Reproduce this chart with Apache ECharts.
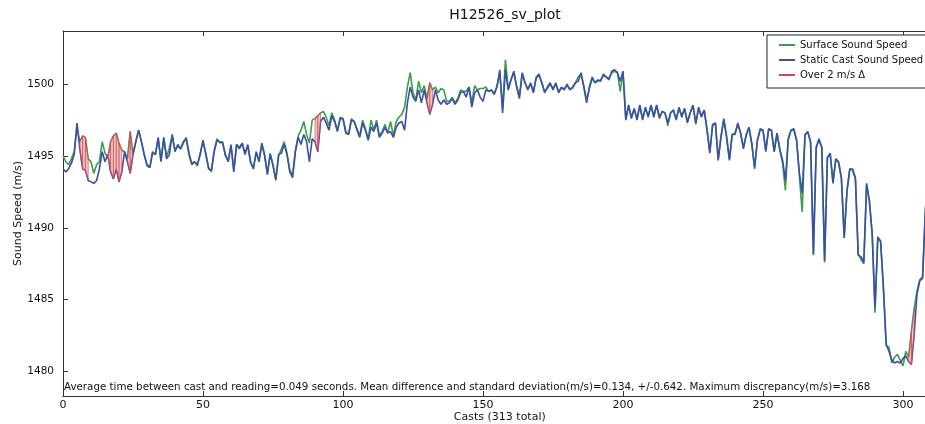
<!DOCTYPE html>
<html><head><meta charset="utf-8">
<script src="https://cdn.jsdelivr.net/npm/echarts@6/dist/echarts.min.js"></script>
<style>html,body{margin:0;padding:0;background:#fff}#c{width:925px;height:424px}</style>
</head><body><div id="c"></div>
<script>
const chartTitle = 'H12526_sv_plot';
const xAxisTitle = 'Casts (313 total)';
const yAxisTitle = 'Sound Speed (m/s)';
const seriesNames = ['Surface Sound Speed', 'Static Cast Sound Speed', 'Over 2 m/s \u0394'];
const note = 'Average time between cast and reading=0.049 seconds. Mean difference and standard deviation(m/s)=0.134, +/-0.642. Maximum discrepancy(m/s)=3.168';
const xTickValues = [0, 50, 100, 150, 200, 250, 300];
const yTickValues = [1480, 1485, 1490, 1495, 1500];
const deltaLimit = 2;

const surface = [
1495.0,1494.6,1494.4,1494.8,1495.3,1497.0,1496.0,1496.4,1496.3,1494.8,
1494.6,1493.8,1494.4,1494.6,1496.0,1495.2,1494.9,1496.0,1496.4,1496.6,
1495.9,1495.4,1495.3,1494.8,1496.7,1495.1,1496.0,1496.8,1496.0,1495.1,
1494.3,1494.2,1495.2,1495.1,1496.2,1494.7,1496.2,1494.9,1495.6,1496.4,
1495.4,1495.7,1495.5,1495.9,1496.3,1495.2,1494.5,1494.6,1494.3,1495.2,
1496.0,1495.2,1494.2,1493.9,1495.4,1496.2,1495.9,1496.0,1495.0,1494.7,
1495.7,1494.0,1495.8,1495.6,1495.9,1495.2,1495.7,1494.5,1494.2,1495.2,
1494.7,1495.8,1495.0,1493.8,1495.2,1494.3,1493.4,1495.0,1495.5,1496.0,
1495.2,1494.0,1493.7,1495.4,1496.4,1496.8,1497.4,1496.5,1495.9,1497.5,
1497.6,1497.8,1498.0,1498.1,1497.7,1497.1,1498.0,1497.5,1496.8,1497.7,
1497.6,1496.7,1496.5,1497.6,1497.4,1496.9,1496.4,1497.5,1496.9,1496.2,
1497.5,1496.8,1497.5,1496.4,1496.7,1497.2,1496.6,1497.4,1496.4,1497.4,
1497.7,1497.9,1498.4,1499.8,1500.8,1499.4,1498.9,1500.2,1499.4,1499.9,
1499.0,1500.1,1499.6,1499.8,1499.4,1499.7,1499.6,1498.8,1498.8,1499.1,
1498.7,1499.0,1499.6,1499.5,1499.5,1499.8,1498.7,1499.9,1499.6,1499.7,
1499.7,1499.8,1499.5,1499.6,1499.3,1499.9,1500.8,1498.3,1501.7,1499.7,
1500.3,1500.8,1499.9,1499.2,1500.7,1500.1,1499.7,1500.0,1499.5,1500.4,
1500.6,1500.1,1499.5,1499.7,1500.0,1499.7,1500.0,1499.5,1499.7,1499.7,
1499.9,1499.7,1499.7,1500.1,1500.5,1500.7,1499.9,1498.9,1499.7,1500.4,
1500.1,1500.2,1500.3,1500.6,1500.5,1500.4,1500.8,1500.9,1500.8,1499.5,
1500.9,1497.6,1498.5,1497.7,1498.3,1497.6,1498.5,1497.6,1498.3,1497.8,
1498.5,1497.8,1498.5,1497.6,1498.1,1498.0,1497.1,1498.0,1498.2,1497.6,
1498.3,1497.8,1498.3,1497.4,1498.0,1498.5,1497.2,1498.3,1497.8,1498.2,
1496.9,1495.3,1497.1,1497.3,1494.8,1496.4,1497.5,1496.4,1494.8,1496.5,
1496.6,1497.2,1496.6,1495.6,1496.4,1497.0,1495.8,1494.1,1496.1,1496.8,
1496.8,1495.4,1496.8,1496.8,1495.3,1496.6,1495.4,1494.5,1492.6,1496.1,
1496.8,1496.8,1496.1,1493.6,1491.1,1496.4,1496.7,1495.9,1488.1,1495.6,
1496.1,1495.6,1487.6,1494.9,1495.1,1493.2,1494.8,1494.5,1493.4,1489.4,
1492.5,1494.1,1494.0,1493.4,1488.2,1487.8,1487.5,1493.0,1491.8,1489.5,
1484.1,1489.4,1489.0,1485.9,1481.8,1481.7,1480.6,1481.0,1481.2,1480.8,
1480.4,1481.4,1481.0,1482.8,1484.4,1485.6,1486.4,1486.6,1491.3,1493.9,
1494.7,1494.3,1495.0
];

const staticCast = [
1494.1,1493.9,1494.1,1494.5,1495.1,1497.3,1495.5,1494.1,1494.0,1493.3,
1493.2,1493.1,1493.3,1494.1,1495.3,1494.6,1495.1,1493.9,1493.4,1494.1,
1493.2,1493.9,1495.3,1494.6,1493.8,1495.1,1496.0,1496.8,1496.0,1495.1,
1494.4,1494.2,1495.3,1495.1,1496.3,1494.6,1496.3,1494.8,1495.1,1496.5,
1495.3,1495.8,1495.5,1496.0,1496.2,1495.1,1494.4,1494.6,1494.4,1495.1,
1496.1,1495.1,1494.1,1494.0,1495.3,1496.1,1496.0,1495.9,1495.1,1494.6,
1495.8,1493.9,1495.8,1495.5,1495.9,1495.1,1495.8,1494.6,1494.1,1495.3,
1494.6,1495.9,1495.1,1493.7,1495.1,1494.4,1493.3,1495.1,1495.2,1495.8,
1495.1,1493.9,1493.5,1495.3,1496.3,1495.8,1496.5,1496.0,1494.6,1496.2,
1496.0,1495.3,1497.4,1497.7,1497.3,1496.8,1497.8,1497.4,1496.7,1497.6,
1497.6,1496.6,1496.5,1497.5,1497.4,1496.8,1496.3,1497.3,1496.8,1496.1,
1497.0,1496.7,1497.3,1496.3,1496.6,1497.0,1496.6,1496.7,1496.3,1497.0,
1497.3,1497.4,1496.8,1498.7,1499.8,1499.1,1498.8,1499.6,1498.7,1499.6,
1498.7,1497.9,1498.6,1499.6,1498.9,1498.6,1498.9,1498.6,1498.7,1499.0,
1498.6,1498.9,1499.4,1499.5,1499.1,1499.8,1498.4,1499.4,1499.6,1499.1,
1498.8,1499.6,1499.5,1499.6,1499.3,1499.8,1501.0,1498.0,1501.0,1499.6,
1500.3,1500.9,1499.8,1499.0,1500.8,1500.1,1499.6,1500.1,1499.4,1500.5,
1500.7,1500.1,1499.4,1499.8,1500.1,1499.6,1500.1,1499.4,1499.8,1499.6,
1500.0,1499.6,1499.8,1500.1,1500.2,1500.8,1499.8,1498.7,1499.8,1500.5,
1500.1,1500.3,1500.2,1500.7,1500.5,1500.3,1500.9,1501.0,1500.8,1500.2,
1500.9,1497.5,1498.55,1497.6,1498.3,1497.5,1498.55,1497.5,1498.4,1497.7,
1498.55,1497.7,1498.55,1497.7,1498.1,1498.0,1497.3,1498.0,1498.2,1497.5,
1498.4,1497.7,1498.3,1497.3,1498.0,1498.55,1497.3,1498.4,1497.7,1498.2,
1496.8,1495.2,1497.2,1497.3,1494.7,1496.3,1497.6,1496.3,1494.7,1496.5,
1496.5,1497.3,1496.6,1495.5,1496.5,1497.0,1495.9,1494.2,1496.1,1496.9,
1496.8,1495.3,1496.9,1496.8,1495.3,1496.6,1495.5,1494.7,1493.3,1496.2,
1496.8,1496.9,1496.1,1493.8,1492.4,1496.5,1496.7,1496.0,1488.2,1495.6,
1496.2,1495.6,1487.7,1494.9,1495.2,1493.1,1494.8,1494.6,1493.5,1489.3,
1492.6,1494.1,1494.1,1493.5,1488.1,1488.0,1487.6,1493.1,1491.9,1489.6,
1484.4,1489.3,1489.1,1485.8,1481.9,1481.4,1480.8,1480.6,1480.7,1480.6,
1480.9,1481.1,1480.7,1480.5,1482.6,1485.4,1486.3,1486.5,1491.2,1493.8,
1494.6,1494.2,1494.9
];

const surfacePts = surface.map((v, i) => [i, v]);
const staticPts = staticCast.map((v, i) => [i, v]);
const over = surface.map((v, i) => Math.abs(v - staticCast[i]) > deltaLimit);
const fillSegs = [];
for (let i = 0; i < surface.length - 1; i++) {
  if (over[i] || over[i + 1]) fillSegs.push([i, surface[i]]);
}

const FONT = 'DejaVu Sans';
const chart = echarts.init(document.getElementById('c'), null, {renderer: 'canvas'});
const axisCommon = {
  type: 'value', min: 0, max: 312, interval: 50,
  axisLine: {show: true, lineStyle: {color: '#333', width: 1}},
  splitLine: {show: false},
};
chart.setOption({
  animation: false,
  backgroundColor: '#fff',
  title: {
    text: chartTitle, left: 500, top: 3, textAlign: 'center',
    textStyle: {fontFamily: FONT, fontSize: 14, fontWeight: 'normal', color: '#111'}
  },
  legend: {
    orient: 'vertical', left: 767, top: 35,
    itemWidth: 16, itemHeight: 2, itemGap: 5,
    padding: [5, 40, 8, 12],
    borderColor: '#222', borderWidth: 1, backgroundColor: '#fff',
    textStyle: {fontFamily: FONT, fontSize: 10, color: '#111'},
    data: [
      {name: seriesNames[0], icon: 'rect'},
      {name: seriesNames[1], icon: 'rect'},
      {name: seriesNames[2], icon: 'rect'}
    ]
  },
  grid: {left: 63, top: 31, width: 873.6, height: 365, outerBoundsMode: 'none', containLabel: false},
  xAxis: [
    Object.assign({}, axisCommon, {
      position: 'bottom',
      name: xAxisTitle, nameLocation: 'middle', nameGap: 16, nameMoveOverlap: false,
      nameTextStyle: {fontFamily: FONT, fontSize: 11, color: '#111'},
      axisTick: {show: true, inside: true, length: 5, lineStyle: {color: '#333'}},
      axisLabel: {show: true, margin: 4, fontFamily: FONT, fontSize: 11, color: '#111',
        customValues: xTickValues, formatter: v => String(v)}
    }),
    Object.assign({}, axisCommon, {
      position: 'top',
      axisTick: {show: true, inside: true, length: 5, lineStyle: {color: '#333'}},
      axisLabel: {show: false}
    })
  ],
  yAxis: {
    type: 'value', min: 1478.3, max: 1503.7,
    axisLine: {show: true, lineStyle: {color: '#333', width: 1}},
    splitLine: {show: false},
    axisTick: {show: true, inside: true, length: 5, lineStyle: {color: '#333'}, customValues: yTickValues},
    axisLabel: {show: true, margin: 9, fontFamily: FONT, fontSize: 10.5, color: '#111',
      customValues: yTickValues, formatter: v => String(v)},
    name: yAxisTitle, nameLocation: 'middle', nameGap: 39, nameRotate: 90, nameMoveOverlap: false,
    nameTextStyle: {fontFamily: FONT, fontSize: 11, color: '#111'}
  },
  graphic: [{
    type: 'text', left: 64, top: 382, z: 100,
    style: {text: note, fontFamily: FONT, fontSize: 10.3, fill: '#111'}
  }],
  series: [
    {
      name: seriesNames[0], type: 'line', data: surfacePts, xAxisIndex: 0,
      showSymbol: false, symbol: 'none', color: '#3d9d4a',
      lineStyle: {width: 1.6, color: '#3d9d4a'}, z: 2
    },
    {
      name: seriesNames[1], type: 'line', data: staticPts, xAxisIndex: 0,
      showSymbol: false, symbol: 'none', color: '#3b4fa6',
      lineStyle: {width: 1.6, color: '#3b4fa6'}, z: 3
    },
    {
      name: seriesNames[2], type: 'custom', data: fillSegs, xAxisIndex: 0,
      color: '#d6455f', z: 4,
      encode: {x: 0, y: 1},
      renderItem: function (params, api) {
        const i = api.value(0);
        const p1 = api.coord([i, surface[i]]);
        const p2 = api.coord([i + 1, surface[i + 1]]);
        const p3 = api.coord([i + 1, staticCast[i + 1]]);
        const p4 = api.coord([i, staticCast[i]]);
        return {
          type: 'polygon',
          shape: {points: [p1, p2, p3, p4]},
          style: {fill: 'rgba(240,130,120,0.45)', stroke: 'rgba(214,69,95,0.8)', lineWidth: 0.8}
        };
      }
    }
  ]
});
</script>
</body></html>
